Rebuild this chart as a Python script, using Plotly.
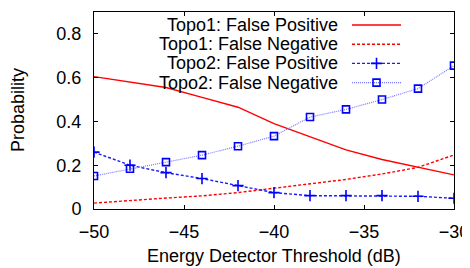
import plotly.graph_objects as go

thresholds = [-50, -48, -46, -44, -42, -40, -38, -36, -34, -32, -30]
topo1_fp = [0.605, 0.58, 0.555, 0.51, 0.465, 0.39, 0.33, 0.27, 0.226, 0.192, 0.156]
topo1_fn = [0.027, 0.04, 0.05, 0.06, 0.075, 0.095, 0.115, 0.135, 0.16, 0.19, 0.247]
topo2_fp = [0.26, 0.20, 0.166, 0.139, 0.107, 0.075, 0.061, 0.061, 0.061, 0.058, 0.049]
topo2_fn = [0.151, 0.184, 0.214, 0.246, 0.287, 0.333, 0.42, 0.455, 0.50, 0.55, 0.655]

names = ["Topo1: False Positive", "Topo1: False Negative",
         "Topo2: False Positive", "Topo2: False Negative"]
series = [topo1_fp, topo1_fn, topo2_fp, topo2_fn]
x_ticks = [-50, -45, -40, -35, -30]
y_ticks = [0, 0.2, 0.4, 0.6, 0.8]
y_ticktext = ["0", "0.2", "0.4", "0.6", "0.8"]

styles = [
    dict(line=dict(color="#ff0000", width=1.4, dash="solid"), mode="lines", marker=None),
    dict(line=dict(color="#ff0000", width=1.4, dash="3px,2px"), mode="lines", marker=None),
    dict(line=dict(color="#1a1aff", width=1.4, dash="3px,2px"), mode="lines+markers",
         marker=dict(symbol="cross-thin", size=8, line=dict(color="#0000ff", width=1.6))),
    dict(line=dict(color="#7a7aff", width=1.2, dash="1px,1px"), mode="lines+markers",
         marker=dict(symbol="square-open", size=7, color="#0000ff", line=dict(color="#0000ff", width=1.6))),
]

FONT = "Liberation Sans, Arial, sans-serif"
FS = 18
OFF = 8  # page body margin of the browser
W, H = 470 - OFF, 268 - OFF
# plot area in window pixels: x 94..454, y 12..209
L = 94 - OFF
T = 12 - OFF
R = W - (454 - OFF)
B = H - (209 - OFF)
PW, PH = W - L - R, H - T - B


def px_x(px):
    return (px - OFF - L) / PW


def px_y(py):
    return (H - B - (py - OFF)) / PH


fig = go.Figure()

for nm, ys, st in zip(names, series, styles):
    kw = dict(x=thresholds, y=ys, mode=st["mode"], line=st["line"], name=nm,
              showlegend=False, hoverinfo="skip")
    if st["marker"] is not None:
        kw["marker"] = st["marker"]
    fig.add_trace(go.Scatter(**kw))

# custom gnuplot-style legend (text right-aligned, sample on right)
sp = 19.2
row_px = [25 + i * sp for i in range(4)]
for i, (nm, st) in enumerate(zip(names, styles)):
    ry = i
    fig.add_trace(go.Scatter(x=[0, 1], y=[ry, ry], mode="lines", line=st["line"],
                             xaxis="x2", yaxis="y2", showlegend=False, hoverinfo="skip"))
    if st["marker"] is not None:
        fig.add_trace(go.Scatter(x=[0.5], y=[ry], mode="markers", marker=st["marker"],
                                 xaxis="x2", yaxis="y2", showlegend=False, hoverinfo="skip"))
    fig.add_annotation(x=px_x(340), y=px_y(row_px[i]), xref="paper", yref="paper", text=nm,
                       showarrow=False, xanchor="right", yanchor="middle",
                       font=dict(family=FONT, size=FS, color="#000000"))

# axis titles
fig.add_annotation(x=px_x(274), y=px_y(256), xref="paper", yref="paper",
                   text="Energy Detector Threshold (dB)", showarrow=False,
                   xanchor="center", yanchor="middle",
                   font=dict(family=FONT, size=FS, color="#000000"))
fig.add_annotation(x=px_x(18), y=px_y(110), xref="paper", yref="paper",
                   text="Probability", showarrow=False, textangle=-90,
                   xanchor="center", yanchor="middle",
                   font=dict(family=FONT, size=FS, color="#000000"))

axis_common = dict(showline=True, linecolor="#000000", linewidth=1, mirror="ticks",
                   ticks="inside", ticklen=4, tickcolor="#000000", showgrid=False,
                   zeroline=False, automargin=False,
                   tickfont=dict(family=FONT, size=FS, color="#000000"))

top_px = row_px[0] - 0.4 * sp
bot_px = row_px[3] + 0.4 * sp

fig.update_layout(
    width=W, height=H,
    margin=dict(l=L, r=R, t=T, b=B, autoexpand=False),
    paper_bgcolor="white", plot_bgcolor="white",
    xaxis=dict(range=[-50, -30], tickvals=x_ticks, ticklabelstandoff=6, **axis_common),
    yaxis=dict(range=[0, 0.9], tickvals=y_ticks, ticktext=y_ticktext,
               ticklabelstandoff=8, **axis_common),
    xaxis2=dict(domain=[px_x(352), px_x(401)], range=[0, 1], visible=False, anchor="y2"),
    yaxis2=dict(domain=[px_y(bot_px), px_y(top_px)], range=[3.4, -0.4], visible=False, anchor="x2"),
)

fig.write_html("out.html")
